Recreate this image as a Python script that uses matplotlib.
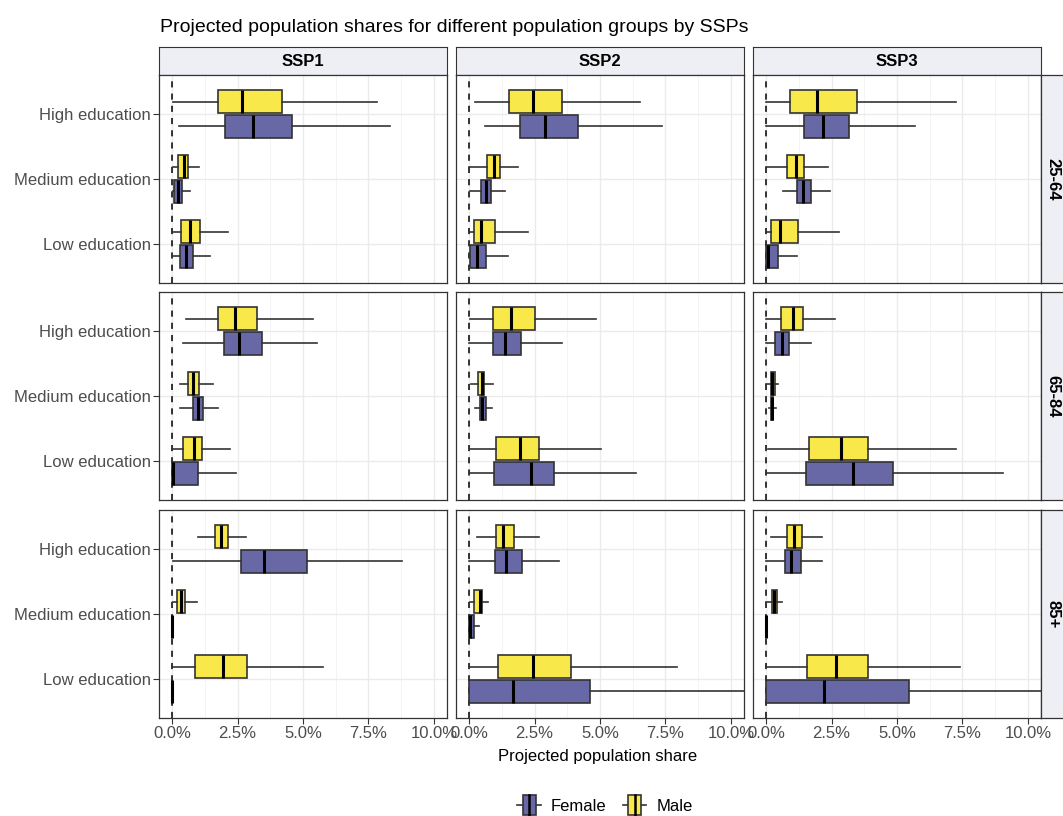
import matplotlib
matplotlib.use("Agg")
import matplotlib.pyplot as plt
from matplotlib.legend_handler import HandlerBase
from matplotlib.lines import Line2D
from matplotlib.patches import Patch, Rectangle
from matplotlib.ticker import FuncFormatter, MultipleLocator

plt.rcParams["font.family"] = ["Liberation Sans", "DejaVu Sans"]

ssps = ["SSP1", "SSP2", "SSP3"]
ages = ["25-64", "65-84", "85+"]
education = ["Low education", "Medium education", "High education"]

# box stats in % : [whislo, q1, median, q3, whishi]
# per age group (25-64, 65-84, 85+), then education (Low, Medium, High)
male_ssp1 = [
    [[0.02, 0.34, 0.70, 1.08, 2.15], [0.02, 0.24, 0.47, 0.60, 1.04], [0.02, 1.74, 2.66, 4.20, 7.82]],
    [[0.00, 0.41, 0.83, 1.13, 2.23], [0.29, 0.60, 0.80, 1.02, 1.58], [0.53, 1.74, 2.40, 3.23, 5.39]],
    [[0.03, 0.89, 1.96, 2.86, 5.76], [0.03, 0.18, 0.33, 0.51, 0.94], [1.00, 1.65, 1.88, 2.15, 2.82]],
]
female_ssp1 = [
    [[0.02, 0.32, 0.53, 0.79, 1.46], [0.05, 0.06, 0.22, 0.37, 0.70], [0.25, 2.02, 3.10, 4.57, 8.33]],
    [[0.00, 0.00, 0.02, 0.99, 2.44], [0.29, 0.78, 0.98, 1.17, 1.74], [0.43, 1.98, 2.54, 3.42, 5.52]],
    [[0.00, 0.00, 0.00, 0.01, 0.02], [0.00, 0.00, 0.00, 0.01, 0.02], [0.02, 2.65, 3.52, 5.14, 8.77]],
]
male_ssp2 = [
    [[0.01, 0.20, 0.46, 1.00, 2.24], [0.01, 0.67, 0.94, 1.18, 1.88], [0.23, 1.54, 2.43, 3.55, 6.53]],
    [[0.04, 1.03, 1.93, 2.67, 5.03], [0.08, 0.33, 0.48, 0.57, 0.93], [0.04, 0.92, 1.60, 2.51, 4.83]],
    [[0.04, 1.11, 2.43, 3.88, 7.95], [0.04, 0.20, 0.43, 0.50, 0.74], [0.29, 1.03, 1.30, 1.70, 2.66]],
]
female_ssp2 = [
    [[0.00, 0.05, 0.29, 0.64, 1.49], [0.04, 0.46, 0.65, 0.85, 1.39], [0.61, 1.96, 2.90, 4.16, 7.37]],
    [[0.04, 0.95, 2.37, 3.26, 6.36], [0.24, 0.43, 0.50, 0.64, 0.89], [0.01, 0.92, 1.36, 2.00, 3.55]],
    [[0.00, 0.00, 1.68, 4.63, 11.0], [0.00, 0.00, 0.05, 0.17, 0.36], [0.01, 1.00, 1.41, 2.01, 3.45]],
]
male_ssp3 = [
    [[0.00, 0.18, 0.55, 1.22, 2.77], [0.00, 0.80, 1.14, 1.46, 2.38], [0.00, 0.91, 1.96, 3.47, 7.24]],
    [[0.06, 1.65, 2.87, 3.91, 7.26], [0.00, 0.17, 0.24, 0.33, 0.47], [0.00, 0.58, 1.03, 1.42, 2.62]],
    [[0.00, 1.56, 2.68, 3.91, 7.40], [0.00, 0.24, 0.32, 0.42, 0.62], [0.19, 0.80, 1.05, 1.37, 2.15]],
]
female_ssp3 = [
    [[0.00, 0.00, 0.09, 0.47, 1.18], [0.66, 1.18, 1.42, 1.70, 2.45], [0.00, 1.46, 2.19, 3.18, 5.69]],
    [[0.00, 1.51, 3.32, 4.84, 9.06], [0.11, 0.18, 0.22, 0.27, 0.37], [0.00, 0.33, 0.61, 0.89, 1.72]],
    [[0.00, 0.00, 2.21, 5.45, 11.0], [0.00, 0.00, 0.00, 0.01, 0.02], [0.00, 0.74, 0.97, 1.32, 2.15]],
]

male_all = [male_ssp1, male_ssp2, male_ssp3]
female_all = [female_ssp1, female_ssp2, female_ssp3]

col_female = "#6868A6"
col_male = "#F8E84A"
edge = "#333333"
tick_col = "#4D4D4D"

W, H = 1063, 816
fig = plt.figure(figsize=(W / 100, H / 100), dpi=100)


def px_axes(x, y, w, h):
    return fig.add_axes([x / W, 1 - (y + h) / H, w / W, h / H])


def to_stats(rows):
    return [dict(whislo=r[0], q1=r[1], med=r[2], q3=r[3], whishi=r[4], fliers=[]) for r in rows]


col_x = [159, 456, 753]
row_y = [75, 292, 510]
pw, ph = 288, 208

for j, ssp in enumerate(ssps):
    # column strip
    sax = px_axes(col_x[j], 47, pw, 28)
    sax.set_facecolor("#EDEFF5")
    sax.set_xticks([])
    sax.set_yticks([])
    for sp in sax.spines.values():
        sp.set_color(edge)
        sp.set_linewidth(0.8)
    sax.text(0.5, 0.5, ssp, ha="center", va="center", fontsize=12, fontweight="bold", transform=sax.transAxes)

    for i, age in enumerate(ages):
        ax = px_axes(col_x[j], row_y[i], pw, ph)
        ax.set_xlim(-0.5, 10.5)
        ax.set_ylim(0.4, 3.6)
        ax.set_axisbelow(True)
        ax.xaxis.set_major_locator(MultipleLocator(2.5))
        ax.xaxis.set_minor_locator(MultipleLocator(1.25))
        ax.set_yticks([1, 2, 3])
        ax.grid(which="major", color="#EBEBEB", linewidth=1.0)
        ax.grid(which="minor", axis="x", color="#F2F2F2", linewidth=0.6)
        ax.tick_params(which="minor", length=0)
        ax.tick_params(which="major", length=4, width=0.8, color=edge, labelcolor=tick_col, labelsize=12, pad=2)
        for sp in ax.spines.values():
            sp.set_color(edge)
            sp.set_linewidth(0.9)

        ax.axvline(0, color="black", linestyle=(0, (4, 4)), linewidth=1.1, zorder=1.5)

        pos = [1, 2, 3]
        for data, off, fc in [(female_all[j][i], -0.19, col_female), (male_all[j][i], 0.19, col_male)]:
            ax.bxp(
                to_stats(data),
                positions=[p + off for p in pos],
                widths=0.35,
                orientation="horizontal",
                patch_artist=True,
                showcaps=False,
                showfliers=False,
                boxprops=dict(facecolor=fc, edgecolor=edge, linewidth=1.2),
                whiskerprops=dict(color=edge, linewidth=1.2),
                medianprops=dict(color="black", linewidth=2.2),
                manage_ticks=False,
            )

        ax.set_yticks([1, 2, 3])
        if j == 0:
            ax.set_yticklabels(education)
        else:
            ax.tick_params(axis="y", length=0, labelleft=False)
        if i == 2:
            ax.xaxis.set_major_formatter(FuncFormatter(lambda v, _: f"{v:.1f}%"))
        else:
            ax.tick_params(axis="x", length=0, labelbottom=False)

        if j == 2:
            rax = px_axes(1041, row_y[i], 30, ph)
            rax.set_facecolor("#EDEFF5")
            rax.set_xticks([])
            rax.set_yticks([])
            for sp in rax.spines.values():
                sp.set_color(edge)
                sp.set_linewidth(0.9)
            rax.text(0.4, 0.5, age, ha="center", va="center", rotation=-90, fontsize=12,
                     fontweight="bold", transform=rax.transAxes)


fig.text(160 / W, 1 - 27 / H, "Projected population shares for different population groups by SSPs",
         ha="left", va="center", fontsize=14)
fig.text(598 / W, 1 - 757 / H, "Projected population share", ha="center", va="center", fontsize=12)


class BoxKey(HandlerBase):
    def create_artists(self, legend, orig_handle, xd, yd, w, h, fontsize, trans):
        x0, y0 = -xd, -yd
        fc = orig_handle.get_facecolor()
        whisk = Line2D([x0, x0 + w], [y0 + h / 2] * 2, color=edge, linewidth=1.2, transform=trans)
        box = Rectangle((x0 + 0.22 * w, y0 - 0.05 * h), 0.56 * w, 1.1 * h,
                        facecolor=fc, edgecolor=edge, linewidth=1.2, transform=trans)
        med = Line2D([x0 + w / 2] * 2, [y0 - 0.05 * h, y0 + 1.05 * h], color="black", linewidth=1.8,
                     transform=trans)
        return [whisk, box, med]


handles = [Patch(facecolor=col_female, edgecolor=edge), Patch(facecolor=col_male, edgecolor=edge)]
fig.legend(handles, ["Female", "Male"], loc="center", bbox_to_anchor=(605 / W, 1 - 805 / H), ncol=2,
           frameon=False, fontsize=12, handler_map={Patch: BoxKey()}, handlelength=1.4, handleheight=1.3,
           handletextpad=0.6, columnspacing=1.0)

fig.savefig("out.png", dpi=100)
